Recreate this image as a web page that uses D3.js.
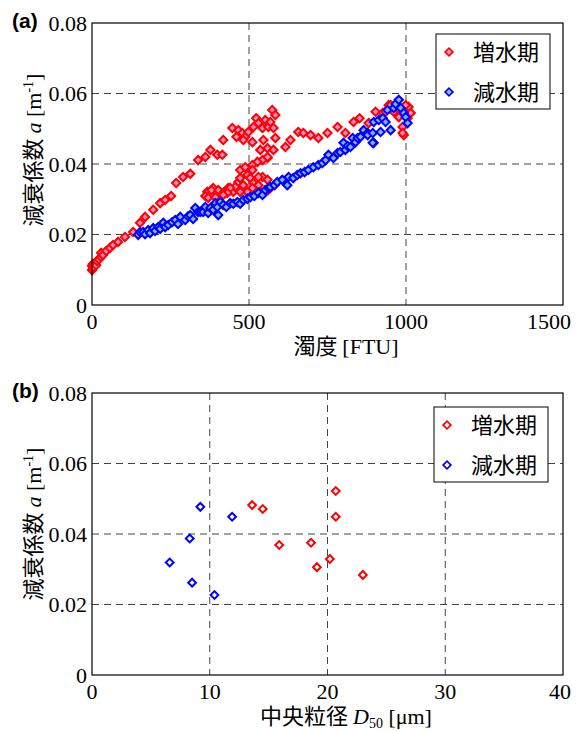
<!DOCTYPE html>
<html>
<head>
<meta charset="utf-8">
<script src="https://cdn.jsdelivr.net/npm/d3@7"></script>
<style>
  body { margin: 0; background: #fff; }
  svg { display: block; }
  .serif { font-family: "Liberation Serif", "Times New Roman", "DejaVu Serif", serif; }
  .cjk { font-family: "Noto Sans CJK JP", "Noto Sans CJK SC", sans-serif; }
</style>
</head>
<body>
<script>
// panel (a): turbidity vs attenuation coefficient
var riseTurb = [0, 0, 3, 3, 6, 10, 13, 16, 22, 29, 29, 35, 45, 57, 67, 83, 105, 131, 153, 169,
  195, 217, 233, 252, 268, 290, 313, 338, 361, 377, 399, 418, 447, 460, 466, 479, 488, 498,
  511, 514, 523, 530, 543, 552, 562, 568, 574, 584, 578, 584, 546, 559, 559, 543, 616, 632,
  657, 673, 696, 721, 750, 782, 807, 833, 852, 881, 903, 926, 945, 961, 977, 989, 993, 1005,
  1008, 1015, 999, 951, 935, 989,
  367, 377, 386, 402, 418, 434, 450, 466, 472, 488, 495, 504, 514, 511, 527, 543, 559, 568,
  488, 511, 482, 472, 456, 440, 431, 418, 530, 536, 562, 530, 511, 495, 472, 361, 370, 380,
  393, 578, 536, 559, 482, 415];
var riseA = [0.0099, 0.0111, 0.0105, 0.0116, 0.0108, 0.0119, 0.0113, 0.0125, 0.0130, 0.0136,
  0.0148, 0.0142, 0.0153, 0.0162, 0.0170, 0.0179, 0.0193, 0.0207, 0.0233, 0.0250, 0.0270,
  0.0289, 0.0298, 0.0309, 0.0346, 0.0363, 0.0372, 0.0411, 0.0420, 0.0440, 0.0426, 0.0468,
  0.0502, 0.0477, 0.0496, 0.0488, 0.0477, 0.0491, 0.0462, 0.0505, 0.0530, 0.0516, 0.0502,
  0.0525, 0.0505, 0.0519, 0.0553, 0.0539, 0.0502, 0.0474, 0.0468, 0.0445, 0.0417, 0.0411,
  0.0448, 0.0468, 0.0491, 0.0488, 0.0482, 0.0474, 0.0488, 0.0505, 0.0488, 0.0519, 0.0530,
  0.0516, 0.0548, 0.0545, 0.0567, 0.0548, 0.0533, 0.0505, 0.0482, 0.0530, 0.0562, 0.0545,
  0.0567, 0.0567, 0.0548, 0.0488,
  0.0321, 0.0312, 0.0332, 0.0326, 0.0318, 0.0332, 0.0321, 0.0349, 0.0383, 0.0391, 0.0369,
  0.0360, 0.0346, 0.0397, 0.0406, 0.0363, 0.0355, 0.0335, 0.0326, 0.0383, 0.0340, 0.0360,
  0.0335, 0.0332, 0.0318, 0.0312, 0.0340, 0.0321, 0.0326, 0.0363, 0.0332, 0.0321, 0.0321,
  0.0309, 0.0304, 0.0326, 0.0306, 0.0440, 0.0440, 0.0420, 0.0468, 0.0426];
var fallTurb = [147, 153, 163, 169, 179, 185, 195, 201, 211, 217, 227, 233, 243, 255, 265, 274,
  281, 297, 306, 313, 322, 329, 338, 345, 354, 361, 370, 377, 386, 393, 402, 399, 409, 418,
  428, 440, 450, 463, 472, 482, 495, 504, 517, 530, 543, 552, 562, 568, 581, 590, 606, 622,
  626, 641, 654, 664, 677, 689, 705, 721, 734, 744, 753, 769, 782, 791, 801, 807, 814, 823,
  830, 839, 846, 855, 865, 878, 878, 894, 897, 897, 913, 919, 926, 935, 941, 951, 961, 967,
  977, 983, 993, 999, 1005, 894];
var fallA = [0.0199, 0.0207, 0.0207, 0.0201, 0.0213, 0.0204, 0.0218, 0.0210, 0.0221, 0.0216,
  0.0233, 0.0221, 0.0227, 0.0235, 0.0241, 0.0230, 0.0250, 0.0241, 0.0252, 0.0255, 0.0244,
  0.0275, 0.0264, 0.0264, 0.0264, 0.0278, 0.0261, 0.0275, 0.0270, 0.0289, 0.0255, 0.0278,
  0.0292, 0.0284, 0.0278, 0.0289, 0.0287, 0.0292, 0.0287, 0.0298, 0.0301, 0.0306, 0.0309,
  0.0318, 0.0312, 0.0326, 0.0332, 0.0335, 0.0340, 0.0349, 0.0355, 0.0340, 0.0363, 0.0360,
  0.0369, 0.0374, 0.0377, 0.0383, 0.0391, 0.0397, 0.0403, 0.0411, 0.0426, 0.0417, 0.0431,
  0.0434, 0.0460, 0.0440, 0.0451, 0.0448, 0.0474, 0.0462, 0.0474, 0.0477, 0.0496, 0.0488,
  0.0482, 0.0488, 0.0460, 0.0519, 0.0525, 0.0491, 0.0530, 0.0519, 0.0553, 0.0496, 0.0559,
  0.0570, 0.0582, 0.0559, 0.0545, 0.0533, 0.0516, 0.0460];

// panel (b): median grain size vs attenuation coefficient
var riseD50 = [13.6, 14.5, 15.9, 18.6, 19.1, 20.2, 20.7, 20.7, 23.0];
var riseAb = [0.0482, 0.0471, 0.0369, 0.0375, 0.0306, 0.0329, 0.0522, 0.0449, 0.0284];
var fallD50 = [9.2, 11.9, 8.3, 6.6, 8.5, 10.4];
var fallAb = [0.0477, 0.0449, 0.0387, 0.0319, 0.0262, 0.0227];

var yTicks = [0, 0.02, 0.04, 0.06, 0.08];
var yTickLabels = ["0", "0.02", "0.04", "0.06", "0.08"];
var xTicksA = [0, 500, 1000, 1500];
var xTicksB = [0, 10, 20, 30, 40];
var seriesNames = ["増水期", "減水期"];

var W = 580, H = 731,
    left = 92, right = 563,
    red = "#ff0000", blue = "#0000ff";

var svg = d3.select("body").append("svg")
    .attr("width", W)
    .attr("height", H);

function zip(xs, ys){
  return xs.map(function(x, i){ return [x, ys[i]]; });
}

function drawPanel(cfg){
  var x = d3.scaleLinear().domain(cfg.xDomain).range([left, right]),
      y = d3.scaleLinear().domain([0, 0.08]).range([cfg.bottom, cfg.top]),
      g = svg.append("g"),
      nx = cfg.xTicks.length;

  // grid
  g.selectAll("line.gx")
      .data(cfg.xTicks.slice(1, -1))
      .enter()
      .append("line")
      .attr("x1", function(d){ return x(d); })
      .attr("x2", function(d){ return x(d); })
      .attr("y1", cfg.top)
      .attr("y2", cfg.bottom)
      .attr("stroke", "#444")
      .attr("stroke-dasharray", "7,5");
  g.selectAll("line.gy")
      .data(yTicks.slice(1, -1))
      .enter()
      .append("line")
      .attr("x1", left)
      .attr("x2", right)
      .attr("y1", function(d){ return y(d); })
      .attr("y2", function(d){ return y(d); })
      .attr("stroke", "#444")
      .attr("stroke-dasharray", "7,5");

  // points
  var sym = d3.symbol().type(d3.symbolSquare).size(cfg.markSize);
  cfg.series.forEach(function(s){
    g.append("g").selectAll("path")
        .data(s.pts)
        .enter()
        .append("path")
        .attr("d", sym)
        .attr("transform", function(d){
          return "translate(" + x(d[0]) + "," + y(d[1]) + ") rotate(45)";
        })
        .attr("fill", s.fill)
        .attr("stroke", s.color)
        .attr("stroke-width", 2);
  });

  // frame
  g.append("rect")
      .attr("x", left)
      .attr("y", cfg.top)
      .attr("width", right - left)
      .attr("height", cfg.bottom - cfg.top)
      .attr("fill", "none")
      .attr("stroke", "#000")
      .attr("stroke-width", 1.2);

  // tick labels
  g.selectAll("text.yt")
      .data(yTicks)
      .enter()
      .append("text")
      .attr("class", "serif")
      .text(function(d, i){ return yTickLabels[i]; })
      .attr("x", left - 5)
      .attr("y", function(d){ return y(d) + 7.5; })
      .attr("text-anchor", "end")
      .attr("font-size", "22px");
  // last x label is pulled in so it stays inside the figure, like the original
  g.selectAll("text.xt")
      .data(cfg.xTicks)
      .enter()
      .append("text")
      .attr("class", "serif")
      .text(function(d){ return d; })
      .attr("x", function(d, i){ return i === nx - 1 ? 571 : x(d); })
      .attr("y", cfg.bottom + 24)
      .attr("text-anchor", function(d, i){ return i === nx - 1 ? "end" : "middle"; })
      .attr("font-size", "22px");

  // axis titles
  var xl = g.append("text")
      .attr("class", "serif")
      .attr("x", 346)
      .attr("y", cfg.bottom + 49)
      .attr("text-anchor", "middle")
      .attr("font-size", "22px");
  cfg.xLabel(xl);

  var yl = g.append("text")
      .attr("class", "serif")
      .attr("transform", "translate(41," + cfg.yMid + ") rotate(-90)")
      .attr("text-anchor", "middle")
      .attr("font-size", "22px");
  yl.append("tspan").attr("class", "cjk").text("減衰係数 ");
  yl.append("tspan").attr("font-style", "italic").text("a");
  yl.append("tspan").text(" [m");
  yl.append("tspan").attr("font-size", "14px").attr("dy", -8).text("-1");
  yl.append("tspan").attr("dy", 8).text("]");

  // panel tag
  g.append("text")
      .text(cfg.tag)
      .attr("x", 12)
      .attr("y", cfg.top + 5)
      .style("font-family", "'Liberation Sans', Arial, sans-serif")
      .attr("font-weight", "bold")
      .attr("font-size", "21px");

  // legend
  var lsym = d3.symbol().type(d3.symbolSquare).size(30);
  var lg = g.append("g").attr("transform", "translate(" + cfg.legend[0] + "," + cfg.legend[1] + ")");
  lg.append("rect")
      .attr("width", 114)
      .attr("height", 75)
      .attr("fill", "#fff")
      .attr("stroke", "#000")
      .attr("stroke-width", 1);
  cfg.series.forEach(function(s, i){
    var ly = 18 + i * 40;
    lg.append("path")
        .attr("d", lsym)
        .attr("transform", "translate(13," + ly + ") rotate(45)")
        .attr("fill", s.legendFill)
        .attr("stroke", s.color)
        .attr("stroke-width", 1.7);
    lg.append("text")
        .attr("class", "cjk")
        .text(seriesNames[i])
        .attr("x", 37)
        .attr("y", ly + 8)
        .attr("font-size", "22px");
  });
}

drawPanel({
  tag: "(a)",
  top: 23,
  bottom: 305,
  yMid: 150,
  markSize: 34,
  xDomain: [0, 1500],
  xTicks: xTicksA,
  legend: [436, 34],
  xLabel: function(t){
    t.append("tspan").attr("class", "cjk").text("濁度 ");
    t.append("tspan").text("[FTU]");
  },
  series: [
    {pts: zip(riseTurb, riseA), color: red, fill: "#ff8cc0", legendFill: "#ff99c4"},
    {pts: zip(fallTurb, fallA), color: blue, fill: "#7fb2ff", legendFill: "#8cbfff"}
  ]
});

drawPanel({
  tag: "(b)",
  top: 393,
  bottom: 675,
  yMid: 524,
  markSize: 30,
  xDomain: [0, 40],
  xTicks: xTicksB,
  legend: [434, 407],
  xLabel: function(t){
    t.append("tspan").attr("class", "cjk").text("中央粒径 ");
    t.append("tspan").attr("font-style", "italic").text("D");
    t.append("tspan").attr("font-size", "14px").attr("dy", 4).text("50");
    t.append("tspan").attr("dy", -4).text(" [μm]");
  },
  series: [
    {pts: zip(riseD50, riseAb), color: red, fill: "#fff", legendFill: "#fff"},
    {pts: zip(fallD50, fallAb), color: blue, fill: "#fff", legendFill: "#fff"}
  ]
});
</script>
</body>
</html>
